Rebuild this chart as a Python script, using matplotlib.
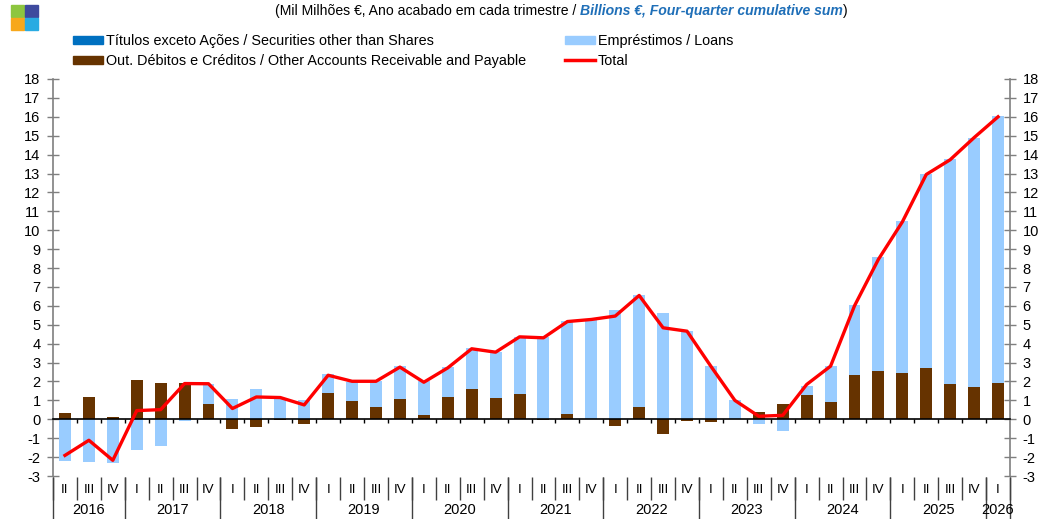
import numpy as np
import matplotlib
matplotlib.use("Agg")
from matplotlib import pyplot as plt
from matplotlib.patches import Patch, Rectangle
from matplotlib.lines import Line2D

# Quarter axis: 2016 Q2 .. 2026 Q1
years = ["2016", "2017", "2018", "2019", "2020", "2021", "2022", "2023",
         "2024", "2025", "2026"]
quarters_per_year = [3, 4, 4, 4, 4, 4, 4, 4, 4, 4, 1]
quarter_labels = (["II", "III", "IV"] + ["I", "II", "III", "IV"] * 9 + ["I"])

# Billions EUR, four-quarter cumulative sum
securities = [0.0, 0.0, 0.0, 0.0, 0.0, 0.0, 0.0, 0.0, 0.0, 0.0,
              0.0, 0.0, 0.0, 0.0, 0.0, 0.0, 0.0, 0.0, 0.0, 0.0,
              0.0, 0.0, 0.0, 0.0, 0.0, 0.0, 0.0, 0.0, 0.0, 0.0,
              0.0, 0.0, 0.0, 0.0, 0.0, 0.0, 0.0, 0.0, 0.0, 0.0]
other = [0.32, 1.17, 0.10,
         2.10, 1.92, 1.92, 0.83,
         -0.52, -0.42, -0.05, -0.25,
         1.40, 0.99, 0.65, 1.07,
         0.21, 1.18, 1.62, 1.15,
         1.36, -0.05, 0.30, 0.03,
         -0.33, 0.65, -0.78, -0.07,
         -0.13, 0.00, 0.39, 0.83,
         1.27, 0.92, 2.33, 2.54,
         2.47, 2.70, 1.89, 1.70,
         1.93]
loans = [-2.19, -2.28, -2.31,
         -1.64, -1.40, -0.10, 1.06,
         1.08, 1.61, 1.12, 1.04,
         1.00, 0.99, 1.36, 1.74,
         1.80, 1.58, 2.13, 2.40,
         3.00, 4.36, 4.89, 5.25,
         5.78, 5.95, 5.64, 4.66,
         2.84, 1.04, -0.25, -0.62,
         0.51, 1.92, 3.71, 6.06,
         8.01, 10.25, 11.87, 13.20,
         14.13]
total = [-1.91, -1.11, -2.17,
         0.46, 0.51, 1.89, 1.88,
         0.57, 1.18, 1.15, 0.76,
         2.33, 2.01, 2.01, 2.76,
         1.96, 2.72, 3.73, 3.55,
         4.36, 4.31, 5.17, 5.28,
         5.46, 6.55, 4.84, 4.66,
         2.80, 1.00, 0.16, 0.21,
         1.84, 2.81, 6.00, 8.46,
         10.44, 12.95, 13.73, 14.90,
         16.00]

C_SEC = "#0070C0"
C_OTHER = "#663300"
C_LOANS = "#99CCFF"
C_TOTAL = "#FF0000"
C_AXIS = "#7F7F7F"

plt.rcParams["font.family"] = ["Liberation Sans", "DejaVu Sans"]
plt.rcParams["axes.unicode_minus"] = False

fig = plt.figure(figsize=(10.42, 5.19), dpi=100)
ax = fig.add_axes([53 / 1042, 1 - 476 / 519, (1010 - 53) / 1042, (476 - 79) / 519])

n = len(quarter_labels)
x = np.arange(n)

# stacked bars, positives and negatives stacked separately
pos = np.zeros(n)
neg = np.zeros(n)
for vals, color in [(securities, C_SEC), (other, C_OTHER), (loans, C_LOANS)]:
    vals = np.asarray(vals)
    bottom = np.where(vals >= 0, pos, neg)
    ax.bar(x, vals, 0.5, bottom=bottom, color=color, linewidth=0, zorder=2)
    pos += np.clip(vals, 0, None)
    neg += np.clip(vals, None, 0)

ax.plot(x, total, color=C_TOTAL, lw=2.4, zorder=4, solid_joinstyle="round")

ax.set_xlim(-0.5, n - 0.5)
ax.set_ylim(-3, 18)

# y axes, both sides
ax.set_yticks(range(-3, 19))
ax.tick_params(axis="y", direction="inout", length=8, width=1, color=C_AXIS,
               labelsize=10.5, left=True, right=True, labelleft=True,
               labelright=True, pad=5)
for side in ["left", "right"]:
    ax.spines[side].set_color(C_AXIS)
    ax.spines[side].set_linewidth(1.2)
ax.spines["top"].set_visible(False)

# zero line with small ticks between quarters
ax.spines["bottom"].set_position(("data", 0))
ax.spines["bottom"].set_color("black")
ax.spines["bottom"].set_linewidth(1.2)
ax.spines["bottom"].set_zorder(3)
ax.set_xticks(np.arange(0.5, n - 1, 1))
ax.tick_params(axis="x", direction="out", length=3, width=1, color="black",
               labelbottom=False)

# category axis under the plot: quarters and years
trans = ax.get_xaxis_transform()
h = 397.0
year_edges = np.concatenate([[0], np.cumsum(quarters_per_year)]) - 0.5
ax.vlines(np.arange(-0.5, n, 1), -1 / h, -24 / h, transform=trans,
          color="#404040", lw=1, clip_on=False)
ax.vlines(year_edges, -1 / h, -44 / h, transform=trans,
          color="#404040", lw=1, clip_on=False)
for xi, lab in zip(x, quarter_labels):
    ax.text(xi, -14 / h, lab, transform=trans, ha="center", va="center",
            fontsize=9.5)
for i, yr in enumerate(years):
    xc = (year_edges[i] + year_edges[i + 1]) / 2
    ax.text(xc, -34 / h, yr, transform=trans, ha="center", va="center",
            fontsize=10.5)

# legend, two columns
h1 = [Patch(color=C_SEC), Patch(color=C_OTHER)]
l1 = ["Títulos exceto Ações / Securities other than Shares",
      "Out. Débitos e Créditos / Other Accounts Receivable and Payable"]
h2 = [Patch(color=C_LOANS), Line2D([], [], color=C_TOTAL, lw=2.5)]
l2 = ["Empréstimos / Loans", "Total"]
kw = dict(frameon=False, fontsize=10.4, handlelength=2.1, handleheight=0.55,
          handletextpad=0.15, labelspacing=0.42, borderpad=0, borderaxespad=0)
fig.legend(h1, l1, loc="upper left", bbox_to_anchor=(73 / 1042, 1 - 34 / 519), **kw)
fig.legend(h2, l2, loc="upper left", bbox_to_anchor=(565 / 1042, 1 - 34 / 519), **kw)

# title in two styles
t1 = fig.text(275 / 1042, 1 - 11 / 519, "(Mil Milhões €, Ano acabado em cada trimestre / ",
              fontsize=10.1, va="center", ha="left")
t2 = ax.annotate("Billions €, Four-quarter cumulative sum", xy=(1, 0),
                 xycoords=t1, va="bottom", ha="left", fontsize=10.1,
                 color="#1F6FB8", style="italic", weight="bold",
                 annotation_clip=False)
ax.annotate(")", xy=(1, 0), xycoords=t2, va="bottom", ha="left",
            fontsize=10.1, annotation_clip=False)

# logo squares
for (lx, ly, c) in [(11, 5, "#8DC63F"), (25, 5, "#3E4A9E"),
                    (11, 18, "#F7A81B"), (25, 18, "#29ABE2")]:
    fig.patches.append(Rectangle((lx / 1042, 1 - (ly + 12) / 519), 13 / 1042,
                                 12 / 519, transform=fig.transFigure,
                                 color=c, figure=fig))

fig.savefig("out.png", dpi=100)
